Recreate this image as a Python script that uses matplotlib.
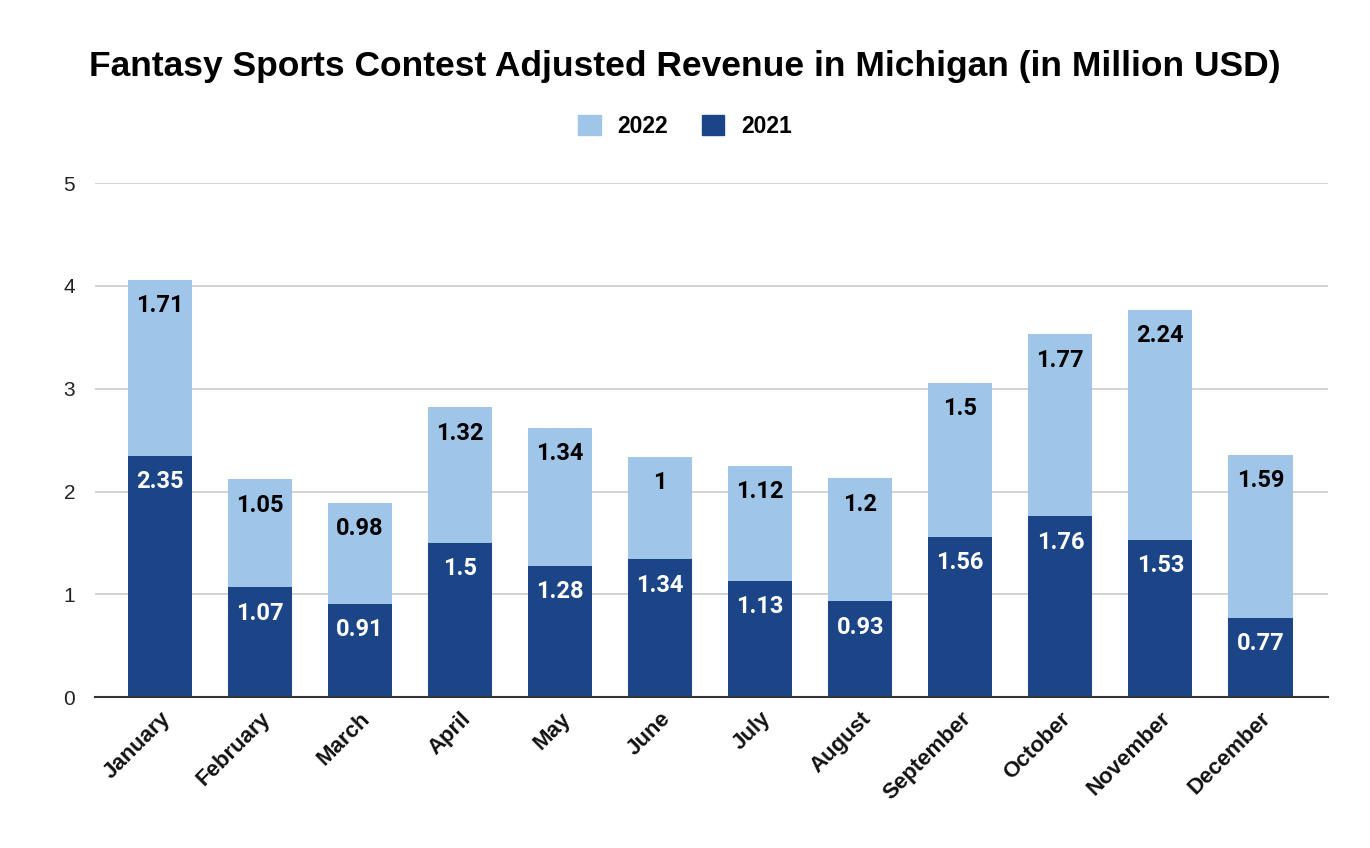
import numpy as np
import matplotlib
matplotlib.use("Agg")
from matplotlib import pyplot as plt
from matplotlib.patches import Patch

months = ['January', 'February', 'March', 'April', 'May', 'June', 'July',
          'August', 'September', 'October', 'November', 'December']
rev2021 = [2.35, 1.07, 0.91, 1.5, 1.28, 1.34, 1.13, 0.93, 1.56, 1.76, 1.53, 0.77]
rev2022 = [1.71, 1.05, 0.98, 1.32, 1.34, 1, 1.12, 1.2, 1.5, 1.77, 2.24, 1.59]
yticks = [0, 1, 2, 3, 4, 5]

dark = '#1c4587'
light = '#9fc5e8'

fig = plt.figure(figsize=(13.7, 8.48), dpi=100)
ax = fig.add_axes([0.069, 0.178, 0.9, 0.606])

x = np.arange(len(months))
b1 = ax.bar(x, rev2021, width=0.64, color=dark, zorder=3)
b2 = ax.bar(x, rev2022, width=0.64, bottom=rev2021, color=light, zorder=3)

# labels near the top of each segment
for i in range(len(months)):
    top1 = rev2021[i]
    top2 = rev2021[i] + rev2022[i]
    ax.annotate(f'{rev2021[i]:g}', (x[i], top1), xytext=(0, -26), textcoords='offset pixels',
                ha='center', va='center', color='white', fontsize=17, fontweight='bold',
                family='Roboto', zorder=4)
    ax.annotate(f'{rev2022[i]:g}', (x[i], top2), xytext=(0, -26), textcoords='offset pixels',
                ha='center', va='center', color='black', fontsize=17, fontweight='bold',
                family='Roboto', zorder=4)

ax.set_xlim(-0.65, 11.67)
ax.set_ylim(0, 5)
ax.set_yticks(yticks)
ax.set_yticklabels([str(t) for t in yticks], fontsize=15, family='Liberation Sans', color='#222222')
ax.yaxis.grid(True, color='#cccccc', linewidth=1.2, zorder=0)
ax.tick_params(axis='y', length=0, pad=14)
ax.tick_params(axis='x', length=0, pad=8)
ax.set_xticks(x)
ax.set_xticklabels(months, rotation=45, ha='right', rotation_mode='anchor',
                   fontsize=16, fontweight='bold', family='Liberation Sans', color='#111111')
for s in ['top', 'right', 'left']:
    ax.spines[s].set_visible(False)
ax.spines['bottom'].set_color('#333333')
ax.spines['bottom'].set_linewidth(1.5)
ax.spines['bottom'].set_zorder(5)

fig.text(0.5, 0.922, 'Fantasy Sports Contest Adjusted Revenue in Michigan (in Million USD)',
         ha='center', va='center', fontsize=25.5, fontweight='bold', family='Liberation Sans')

handles = [Patch(facecolor=light, edgecolor=light), Patch(facecolor=dark, edgecolor=dark)]
leg = fig.legend(handles, ['2022', '2021'], loc='center', bbox_to_anchor=(0.5, 0.851),
                 ncol=2, frameon=False, handlelength=1.0, handleheight=1.0,
                 columnspacing=1.45, handletextpad=0.75,
                 prop={'family': 'Liberation Sans', 'weight': 'bold', 'size': 16.5})

fig.savefig('out.png', dpi=100, facecolor='white')
